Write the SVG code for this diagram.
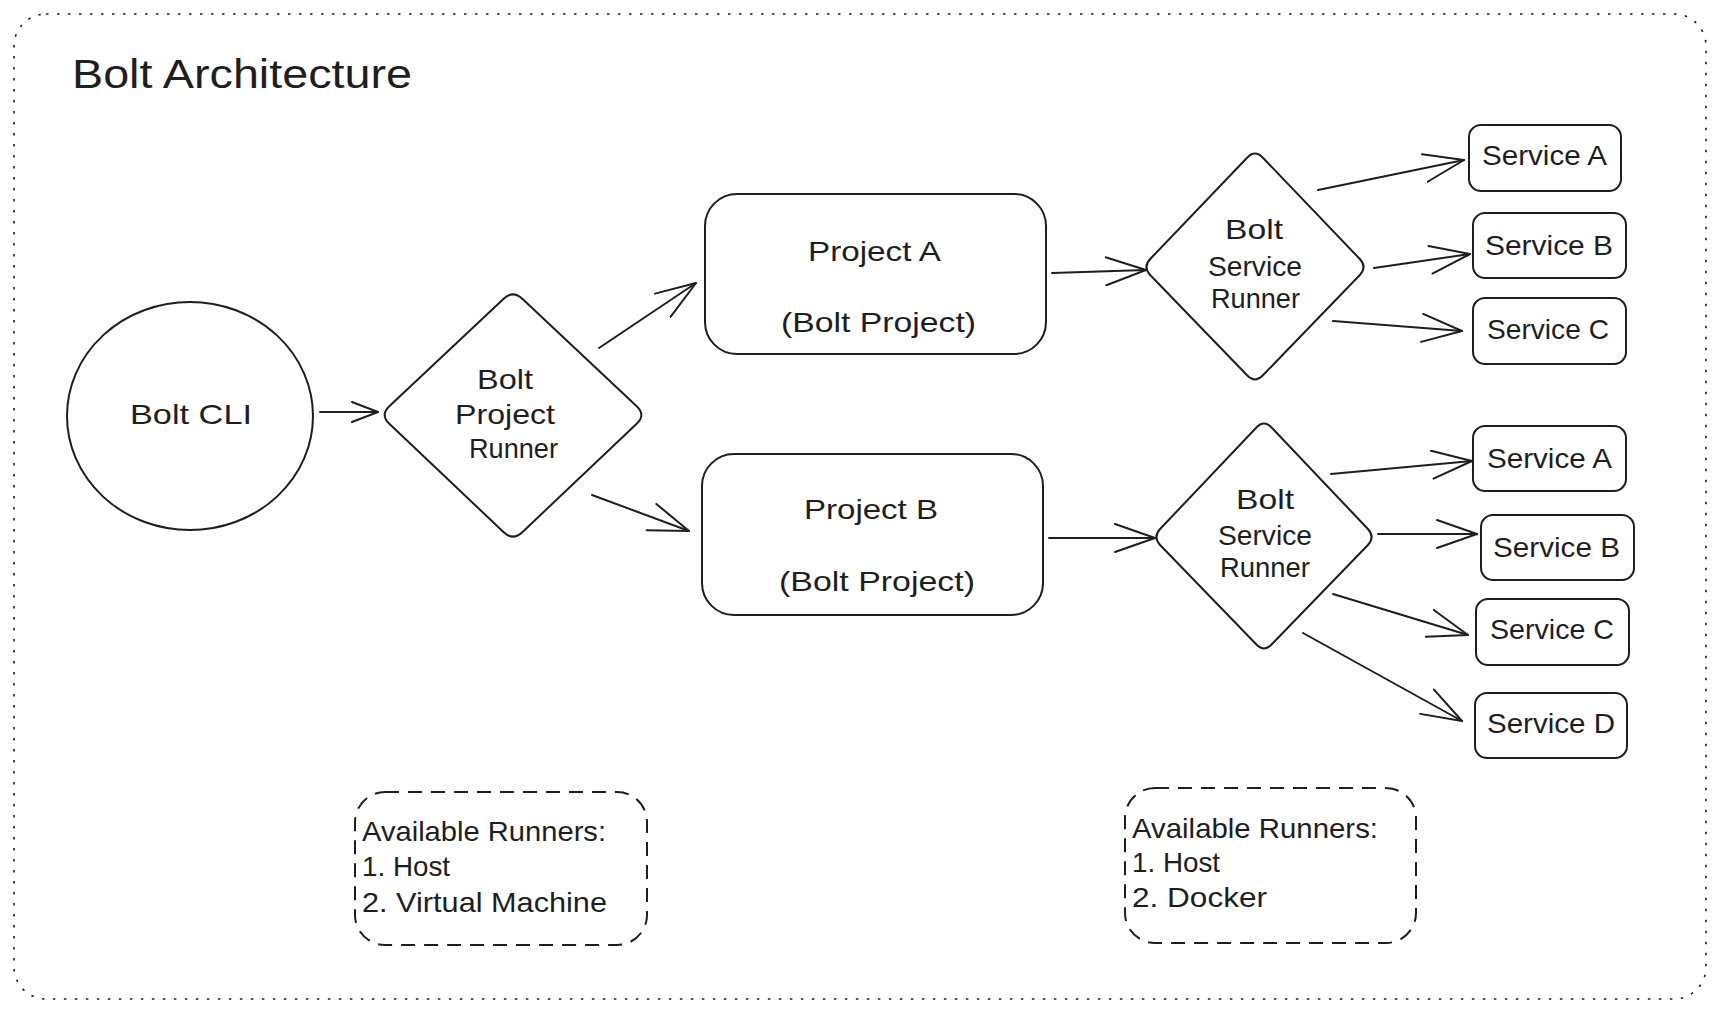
<svg xmlns="http://www.w3.org/2000/svg" width="1718" height="1012" viewBox="0 0 1718 1012">
<style>
.s{fill:none;stroke:#1e1e1e;stroke-width:2;stroke-linejoin:round;stroke-linecap:round}
.t{font-family:"Liberation Sans",Arial,sans-serif;font-size:28px;fill:#1e1e1e}
.title{font-family:"Liberation Sans",Arial,sans-serif;font-size:40px;fill:#1e1e1e}
.c{fill:none;stroke:#1e1e1e;stroke-width:2;stroke-linecap:round}
.dash{fill:none;stroke:#1e1e1e;stroke-width:2;stroke-dasharray:14 9}
.dot{fill:none;stroke:#1e1e1e;stroke-width:1.6;stroke-dasharray:2.5 8.5}
</style>
<defs>
<marker id="ah" markerUnits="userSpaceOnUse" viewBox="0 0 42 30" refX="41" refY="15" markerWidth="42" markerHeight="30" orient="auto">
<path d="M1,1 L41,15 L1,29" fill="none" stroke="#1e1e1e" stroke-width="2" stroke-linecap="round" stroke-linejoin="round"/>
</marker>
<marker id="ahs" markerUnits="userSpaceOnUse" viewBox="0 0 28 22" refX="27" refY="11" markerWidth="28" markerHeight="22" orient="auto">
<path d="M1,1 L27,11 L1,21" fill="none" stroke="#1e1e1e" stroke-width="2" stroke-linecap="round" stroke-linejoin="round"/>
</marker>
</defs>
<rect width="1718" height="1012" fill="#ffffff"/>
<rect class="dot" x="14" y="14" width="1692" height="985" rx="32"/>
<text class="title" x="72" y="88" textLength="340" lengthAdjust="spacingAndGlyphs">Bolt Architecture</text>

<g id="bolt-cli">
<ellipse class="s" cx="190" cy="416" rx="123" ry="114"/>
<text class="t" x="130" y="424" textLength="122" lengthAdjust="spacingAndGlyphs">Bolt CLI</text>
</g>
<g id="bolt-project-runner">
<path class="s" d="M522.3,298.8 L636.7,406.2 Q646,415 636.7,423.8 L522.3,532.2 Q513,541 503.7,532.2 L389.3,423.8 Q380,415 389.3,406.2 L503.7,298.8 Q513,290 522.3,298.8 Z"/>
<text class="t" x="477" y="389" textLength="56" lengthAdjust="spacingAndGlyphs">Bolt</text>
<text class="t" x="455" y="424" textLength="100" lengthAdjust="spacingAndGlyphs">Project</text>
<text class="t" x="469" y="458" textLength="89" lengthAdjust="spacingAndGlyphs">Runner</text>
</g>
<g id="project-a">
<rect class="s" x="705" y="194" width="341" height="160" rx="32"/>
<text class="t" x="808" y="261" textLength="133" lengthAdjust="spacingAndGlyphs">Project A</text>
<text class="t" x="781" y="332" textLength="195" lengthAdjust="spacingAndGlyphs">(Bolt Project)</text>
</g>
<g id="project-b">
<rect class="s" x="702" y="454" width="341" height="161" rx="32"/>
<text class="t" x="804" y="519" textLength="134" lengthAdjust="spacingAndGlyphs">Project B</text>
<text class="t" x="779" y="591" textLength="196" lengthAdjust="spacingAndGlyphs">(Bolt Project)</text>
</g>
<g id="service-runner-a">
<path class="s" d="M1262.9,157.7 L1359.6,258.8 Q1367.5,267 1359.6,275.2 L1262.9,375.3 Q1255,383.5 1247.1,375.3 L1150.4,275.2 Q1142.5,267 1150.4,258.8 L1247.1,157.7 Q1255,149.5 1262.9,157.7 Z"/>
<text class="t" x="1225" y="239" textLength="58" lengthAdjust="spacingAndGlyphs">Bolt</text>
<text class="t" x="1208" y="276" textLength="94" lengthAdjust="spacingAndGlyphs">Service</text>
<text class="t" x="1211" y="308" textLength="89" lengthAdjust="spacingAndGlyphs">Runner</text>
</g>
<g id="service-runner-b">
<path class="s" d="M1271.8,427.7 L1367.7,528.8 Q1375.5,537 1367.7,545.2 L1271.8,644.3 Q1264,652.5 1256.2,644.3 L1160.3,545.2 Q1152.5,537 1160.3,528.8 L1256.2,427.7 Q1264,419.5 1271.8,427.7 Z"/>
<text class="t" x="1236" y="509" textLength="58" lengthAdjust="spacingAndGlyphs">Bolt</text>
<text class="t" x="1218" y="545" textLength="94" lengthAdjust="spacingAndGlyphs">Service</text>
<text class="t" x="1220" y="577" textLength="90" lengthAdjust="spacingAndGlyphs">Runner</text>
</g>
<g id="service-a1">
<rect class="s" x="1469" y="125" width="152" height="66" rx="12"/>
<text class="t" x="1482" y="165" textLength="125" lengthAdjust="spacingAndGlyphs">Service A</text>
</g>
<g id="service-b1">
<rect class="s" x="1473" y="213" width="153" height="65" rx="12"/>
<text class="t" x="1485" y="255" textLength="128" lengthAdjust="spacingAndGlyphs">Service B</text>
</g>
<g id="service-c1">
<rect class="s" x="1473" y="298" width="153" height="66" rx="12"/>
<text class="t" x="1487" y="339" textLength="122" lengthAdjust="spacingAndGlyphs">Service C</text>
</g>
<g id="service-a2">
<rect class="s" x="1473" y="426" width="153" height="65" rx="12"/>
<text class="t" x="1487" y="468" textLength="125" lengthAdjust="spacingAndGlyphs">Service A</text>
</g>
<g id="service-b2">
<rect class="s" x="1481" y="515" width="153" height="65" rx="12"/>
<text class="t" x="1493" y="557" textLength="127" lengthAdjust="spacingAndGlyphs">Service B</text>
</g>
<g id="service-c2">
<rect class="s" x="1476" y="599" width="153" height="66" rx="12"/>
<text class="t" x="1490" y="639" textLength="124" lengthAdjust="spacingAndGlyphs">Service C</text>
</g>
<g id="service-d">
<rect class="s" x="1475" y="693" width="152" height="65" rx="12"/>
<text class="t" x="1487" y="733" textLength="128" lengthAdjust="spacingAndGlyphs">Service D</text>
</g>
<g id="runners-note-left">
<rect class="dash" x="355" y="792" width="292" height="153" rx="30"/>
<text class="t" x="362" y="841" textLength="244" lengthAdjust="spacingAndGlyphs">Available Runners:</text>
<text class="t" x="362" y="876" textLength="88" lengthAdjust="spacingAndGlyphs">1. Host</text>
<text class="t" x="362" y="912" textLength="245" lengthAdjust="spacingAndGlyphs">2. Virtual Machine</text>
</g>
<g id="runners-note-right">
<rect class="dash" x="1125" y="788" width="291" height="155" rx="30"/>
<text class="t" x="1132" y="838" textLength="246" lengthAdjust="spacingAndGlyphs">Available Runners:</text>
<text class="t" x="1132" y="872" textLength="88" lengthAdjust="spacingAndGlyphs">1. Host</text>
<text class="t" x="1132" y="907" textLength="135" lengthAdjust="spacingAndGlyphs">2. Docker</text>
</g>
<g id="connectors">
<line class="c" x1="320" y1="412" x2="378" y2="412" marker-end="url(#ahs)"/>
<line class="c" x1="599" y1="348" x2="696" y2="283" marker-end="url(#ah)"/>
<line class="c" x1="592" y1="495" x2="689" y2="531" marker-end="url(#ah)"/>
<line class="c" x1="1052" y1="273" x2="1146" y2="270" marker-end="url(#ah)"/>
<line class="c" x1="1049" y1="538" x2="1155" y2="538" marker-end="url(#ah)"/>
<line class="c" x1="1318" y1="190" x2="1464" y2="160" marker-end="url(#ah)"/>
<line class="c" x1="1374" y1="268" x2="1470" y2="254" marker-end="url(#ah)"/>
<line class="c" x1="1333" y1="321" x2="1462" y2="331" marker-end="url(#ah)"/>
<line class="c" x1="1331" y1="474" x2="1472" y2="461" marker-end="url(#ah)"/>
<line class="c" x1="1378" y1="534" x2="1477" y2="534" marker-end="url(#ah)"/>
<line class="c" x1="1333" y1="594" x2="1468" y2="635" marker-end="url(#ah)"/>
<line class="c" x1="1303" y1="633" x2="1462" y2="721" marker-end="url(#ah)"/>
</g>
</svg>
